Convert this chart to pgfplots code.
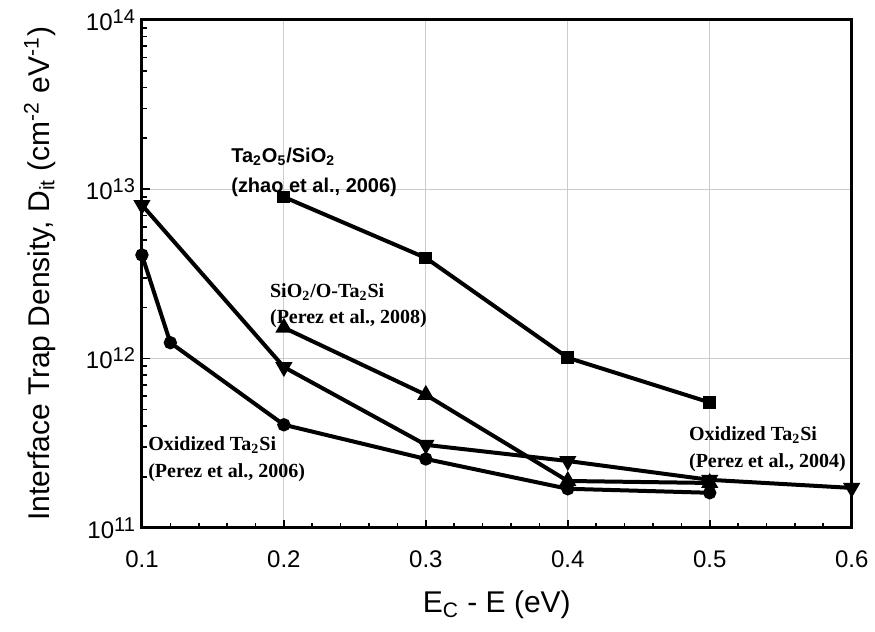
\documentclass[border=0pt]{standalone}
\usepackage{fontspec}
\setmainfont{Liberation Sans}
\newfontfamily\timesfont{Liberation Serif}
\usepackage{pgfplots}
\pgfplotsset{compat=1.18}
\newcommand{\tenpow}[1]{10\raisebox{0.55ex}{\fontsize{10}{10}\selectfont #1}}

\begin{document}
\begin{tikzpicture}
\begin{axis}[
    scale only axis,
    width=355pt, height=254pt,
    ymode=log,
    xmin=0.1, xmax=0.6,
    ymin=1e11, ymax=1e14,
    xtick={0.1,0.2,0.3,0.4,0.5,0.6},
    ytick={1e11,1e12,1e13,1e14},
    yticklabels={\tenpow{11},\tenpow{12},\tenpow{13},\tenpow{14}},
    minor x tick num=4,
    /pgf/number format/assume math mode=true,
    /pgf/number format/.cd, fixed, precision=1, /pgfplots/.cd,
    tick label style={font=\fontsize{12}{14}\selectfont},
    xticklabel style={yshift=-8pt},
    tick pos=left,
    tick align=inside,
    major tick length=4pt,
    minor tick length=2.5pt,
    tick style={black, line width=0.8pt},
    axis line style={black, line width=1.5pt},
    xmajorgrids, ymajorgrids,
    major grid style={gray!40, line width=0.6pt},
    every axis x label/.style={at={(axis description cs:0.5,-0.152)}, anchor=center},
    every axis y label/.style={at={(axis description cs:-0.144,0.5)}, anchor=center, rotate=90},
    label style={font=\fontsize{15}{18}\selectfont},
    xlabel={E\textsubscript{C} - E (eV)},
    ylabel={Interface Trap Density, D\textsubscript{it} (cm\textsuperscript{-2} eV\textsuperscript{-1})},
    every axis plot/.append style={black, line width=2pt, mark options={solid}},
    clip=false,
]
% Ta2O5/SiO2 (zhao et al., 2006)
\addplot[mark=square*, mark size=2.2pt] coordinates {
    (0.2,9.0e12) (0.3,3.93e12) (0.4,1.01e12) (0.5,5.5e11)
};
% Oxidized Ta2Si (Perez et al., 2004)
\addplot[mark=triangle*, mark size=3pt, mark options={rotate=180}] coordinates {
    (0.1,8.07e12) (0.2,8.9e11) (0.3,3.09e11) (0.4,2.48e11) (0.5,1.92e11) (0.6,1.72e11)
};
% SiO2/O-Ta2Si (Perez et al., 2008)
\addplot[mark=triangle*, mark size=3pt] coordinates {
    (0.2,1.52e12) (0.3,6.1e11) (0.4,1.89e11) (0.5,1.84e11)
};
% Oxidized Ta2Si (Perez et al., 2006)
\addplot[mark=*, mark size=2.3pt] coordinates {
    (0.1,4.09e12) (0.12,1.24e12) (0.2,4.06e11) (0.3,2.55e11) (0.4,1.70e11) (0.5,1.61e11)
};

\node[anchor=west, inner sep=0pt, font=\fontsize{10}{12}\selectfont\bfseries] at (axis cs:0.1627,1.552e13) {Ta\textsubscript{2}O\textsubscript{5}/SiO\textsubscript{2}};
\node[anchor=west, inner sep=0pt, font=\fontsize{10}{12}\selectfont\bfseries] at (axis cs:0.1627,1.033e13) {(zhao et al., 2006)};
\node[anchor=west, inner sep=0pt, font=\fontsize{10}{12}\selectfont\timesfont\bfseries] at (axis cs:0.190,2.477e12) {SiO\textsubscript{2}/O-Ta\textsubscript{2}Si};
\node[anchor=west, inner sep=0pt, font=\fontsize{10}{12}\selectfont\timesfont\bfseries] at (axis cs:0.190,1.714e12) {(Perez et al., 2008)};
\node[anchor=west, inner sep=0pt, font=\fontsize{10}{12}\selectfont\timesfont\bfseries] at (axis cs:0.1042,3.09e11) {Oxidized Ta\textsubscript{2}Si};
\node[anchor=west, inner sep=0pt, font=\fontsize{10}{12}\selectfont\timesfont\bfseries] at (axis cs:0.1042,2.11e11) {(Perez et al., 2006)};
\node[anchor=west, inner sep=0pt, font=\fontsize{10}{12}\selectfont\timesfont\bfseries] at (axis cs:0.4852,3.54e11) {Oxidized Ta\textsubscript{2}Si};
\node[anchor=west, inner sep=0pt, font=\fontsize{10}{12}\selectfont\timesfont\bfseries] at (axis cs:0.4852,2.42e11) {(Perez et al., 2004)};
\end{axis}
\path (current axis.south west) ++(-71pt,-52pt) coordinate (bbA);
\path (current axis.north east) ++(11.5pt,10pt) coordinate (bbB);
\path (bbA) rectangle (bbB);
\end{tikzpicture}
\end{document}
